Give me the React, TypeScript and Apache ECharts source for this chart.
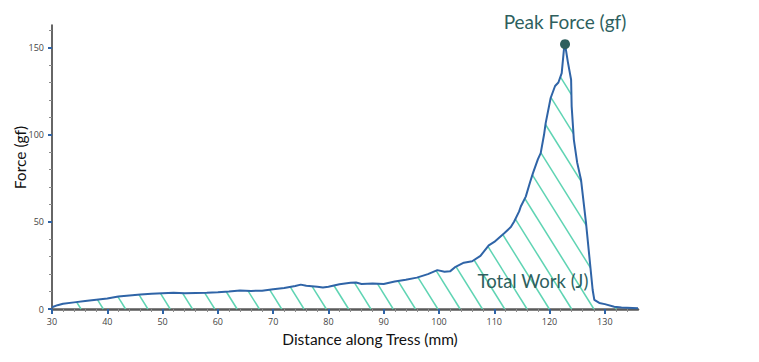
import React, { useEffect, useRef } from "react";
import * as echarts from "echarts";

const distance = [
  30, 31, 32, 34, 36, 38, 40, 42, 44, 46, 48, 50, 52, 54, 56, 58, 60, 62, 64, 66, 68, 70, 72, 74, 75, 76, 78, 79, 80,
  82, 84, 85, 86, 88, 90, 92, 94, 96, 98, 99.7, 101, 102, 103, 104.5, 106, 107.5, 109, 110, 111.8, 113, 113.6, 114.5,
  114.8, 115.7, 116.5, 117, 117.9, 118.4, 119, 119.3, 120.2, 121, 121.6, 122.2, 122.6, 122.8, 123.3, 123.9, 124.0,
  124.4, 125.0, 125.7, 126.6, 127.2, 127.8, 128.1, 129, 130, 131.7, 133, 136,
];
const force = [
  1.0, 2.2, 3.0, 3.8, 4.6, 5.3, 6.0, 7.2, 7.8, 8.3, 8.7, 9.0, 9.3, 9.1, 9.2, 9.3, 9.6, 10.0, 10.6, 10.4, 10.5, 11.4,
  12.0, 13.2, 14.0, 13.3, 12.8, 12.3, 12.8, 14.2, 15.0, 15.2, 14.4, 14.6, 14.4, 15.8, 16.8, 18.0, 20.0, 22.3, 21.4,
  21.6, 24.2, 26.6, 27.4, 30.5, 36.5, 38.5, 43.5, 47, 50.2, 56, 58.8, 64.5, 73, 78, 86, 89.5, 100, 106.7, 121.1, 128,
  130, 135.4, 148.9, 152, 142, 131.6, 116.3, 97.1, 84, 74, 49.3, 30.1, 10.9, 5.2, 3.5, 2.8, 1.3, 0.8, 0.5,
];
const xMajorTicks = [30, 40, 50, 60, 70, 80, 90, 100, 110, 120, 130];
const xMinorTicks = [
  32, 34, 36, 38, 42, 44, 46, 48, 52, 54, 56, 58, 62, 64, 66, 68, 72, 74, 76, 78, 82, 84, 86, 88, 92, 94, 96, 98, 102,
  104, 106, 108, 112, 114, 116, 118, 122, 124, 126, 128, 132, 134,
];
const yMajorTicks = [0, 50, 100, 150];
const yMinorTicks = [10, 20, 30, 40, 60, 70, 80, 90, 110, 120, 130, 140, 160];

const LINE = "#2f64a7";
const HATCH = "#5fd4b3";
const TEAL = "#2e5f5e";
const TICKBLUE = "#2e63a6";

export default function App() {
  const ref = useRef<HTMLDivElement>(null);
  useEffect(() => {
    if (!ref.current) return;
    const chart = echarts.init(ref.current, null, { renderer: "svg" });

    const renderHatch = (params: any, api: any) => {
      const pts: number[][] = distance.map((d, i) => api.coord([d, force[i]]));
      const baseL = api.coord([distance[0], 0]);
      const baseR = api.coord([distance[distance.length - 1], 0]);
      pts.push(baseR);
      pts.push(baseL);
      const s = 1.6;
      const y0 = baseL[1];
      const step = 22.3;
      const children: any[] = [];
      for (let xb = baseL[0] + 29; xb < baseR[0] + 400; xb += step) {
        const c = xb - y0 / s;
        const hits: number[][] = [];
        for (let i = 0; i < pts.length; i++) {
          const p = pts[i];
          const q = pts[(i + 1) % pts.length];
          const up = p[0] - p[1] / s;
          const uq = q[0] - q[1] / s;
          if ((up - c) * (uq - c) < 0) {
            const t = (c - up) / (uq - up);
            hits.push([p[0] + t * (q[0] - p[0]), p[1] + t * (q[1] - p[1])]);
          }
        }
        hits.sort((a, b) => a[1] - b[1]);
        for (let k = 0; k + 1 < hits.length; k += 2) {
          children.push({
            type: "line",
            shape: { x1: hits[k][0], y1: hits[k][1], x2: hits[k + 1][0], y2: hits[k + 1][1] },
            style: { stroke: HATCH, lineWidth: 1.5 },
          });
        }
      }
      return { type: "group", children };
    };

    const labelFont = { fontSize: 9, color: "#444", fontFamily: "Open Sans" };

    chart.setOption({
      animation: false,
      grid: { left: 52, right: 121, top: 25, bottom: 53 },
      xAxis: [
        {
          type: "value",
          min: 30,
          max: 136,
          interval: 10,
          position: "bottom",
          axisLine: { show: true, onZero: false, lineStyle: { color: "#5a5a5a", width: 2.5 } },
          axisTick: { show: true, customValues: xMinorTicks, length: 3, lineStyle: { color: "#8a8a8a", width: 1 } },
          axisLabel: { show: false },
          splitLine: { show: false },
          name: "Distance along Tress (mm)",
          nameLocation: "middle",
          nameGap: 22,
          nameTextStyle: { fontSize: 15.5, color: "#111", fontFamily: "Lato", padding: [0, 0, 0, 50] },
        },
        {
          type: "value",
          min: 30,
          max: 136,
          interval: 10,
          position: "bottom",
          axisLine: { show: false, onZero: false },
          axisTick: { show: true, customValues: xMajorTicks, length: 5, lineStyle: { color: TICKBLUE, width: 2 } },
          axisLabel: { show: true, customValues: xMajorTicks, margin: 8, ...labelFont },
          splitLine: { show: false },
        },
      ],
      yAxis: [
        {
          type: "value",
          min: 0,
          max: 163,
          interval: 50,
          position: "left",
          axisLine: { show: true, onZero: false, lineStyle: { color: "#333", width: 1.5 } },
          axisTick: { show: true, customValues: yMinorTicks, length: 3, lineStyle: { color: "#8a8a8a", width: 1 } },
          axisLabel: { show: false },
          splitLine: { show: false },
          name: "Force (gf)",
          nameLocation: "middle",
          nameGap: 24,
          nameTextStyle: { fontSize: 15.5, color: "#111", fontFamily: "Lato", padding: [0, 0, 0, 19] },
        },
        {
          type: "value",
          min: 0,
          max: 163,
          interval: 50,
          position: "left",
          axisLine: { show: false, onZero: false },
          axisTick: { show: true, customValues: yMajorTicks, length: 4, lineStyle: { color: TICKBLUE, width: 2 } },
          axisLabel: { show: true, customValues: yMajorTicks, margin: 8, ...labelFont },
          splitLine: { show: false },
        },
      ],
      series: [
        {
          type: "custom",
          xAxisIndex: 0,
          yAxisIndex: 0,
          clip: false,
          silent: true,
          z: 1,
          data: [[distance[0], 0]],
          renderItem: renderHatch,
        },
        {
          type: "line",
          xAxisIndex: 0,
          yAxisIndex: 0,
          z: 3,
          data: distance.map((d, i) => [d, force[i]]),
          showSymbol: false,
          lineStyle: { color: LINE, width: 2 },
          itemStyle: { color: LINE },
          markPoint: {
            silent: true,
            data: [
              {
                type: "max",
                symbol: "circle",
                symbolSize: 10,
                itemStyle: { color: TEAL },
                label: {
                  show: true,
                  formatter: "Peak Force (gf)",
                  position: "top",
                  distance: 8,
                  fontSize: 19,
                  color: TEAL,
                  fontFamily: "Lato",
                },
              },
              {
                coord: [117, 16.3],
                symbol: "circle",
                symbolSize: 1,
                itemStyle: { color: "rgba(0,0,0,0)" },
                label: {
                  show: true,
                  formatter: "Total Work (J)",
                  position: "inside",
                  fontSize: 18.5,
                  color: TEAL,
                  fontFamily: "Lato",
                },
              },
            ],
          },
        },
      ],
    });
    return () => chart.dispose();
  }, []);
  return <div ref={ref} style={{ position: "absolute", left: 0, top: 0, width: 759, height: 362 }} />;
}
